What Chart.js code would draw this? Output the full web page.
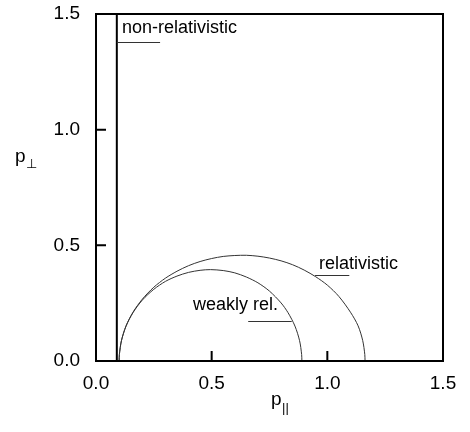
<!DOCTYPE html>
<html>
<head>
<meta charset="utf-8">
<script src="https://cdn.jsdelivr.net/npm/chart.js@4.4.0/dist/chart.umd.min.js"></script>
<style>
  html, body { margin: 0; padding: 0; background: #fff; }
</style>
</head>
<body>
<canvas id="chart" width="470" height="432"></canvas>
<script>
// axis ticks (same on both axes)
const tickValues = [0, 0.5, 1.0, 1.5];

// non-relativistic resonance: vertical line
const nonRelX = [0.09, 0.09];
const nonRelY = [0, 1.5];

// weakly relativistic resonance curve
const weakX = [0.100, 0.101, 0.11, 0.13, 0.16, 0.20, 0.25, 0.30, 0.35, 0.40, 0.45, 0.495,
  0.55, 0.60, 0.65, 0.70, 0.75, 0.80, 0.83, 0.86, 0.88, 0.889, 0.890];
const weakY = [0, 0.028, 0.088, 0.151, 0.209, 0.263, 0.310, 0.344, 0.367, 0.383, 0.392, 0.395,
  0.391, 0.381, 0.363, 0.338, 0.302, 0.251, 0.209, 0.151, 0.088, 0.028, 0];

// fully relativistic resonance curve
const relX = [0.100, 0.101, 0.11, 0.13, 0.16, 0.20, 0.25, 0.30, 0.35, 0.40, 0.45, 0.50, 0.55,
  0.60, 0.65, 0.70, 0.75, 0.80, 0.85, 0.90, 0.95, 1.00, 1.05, 1.10, 1.133, 1.153, 1.162, 1.163];
const relY = [0, 0.028, 0.088, 0.152, 0.211, 0.267, 0.319, 0.358, 0.388, 0.412, 0.430, 0.443, 0.452,
  0.456, 0.457, 0.453, 0.445, 0.433, 0.416, 0.393, 0.364, 0.328, 0.279, 0.211, 0.152, 0.088, 0.028, 0];

// curve labels with a short leader line (data units)
const curveLabels = [
  { text: "non-relativistic", x: 0.112, y: 1.419, x0: 0.09, x1: 0.277, ly: 1.381 },
  { text: "relativistic", x: 0.964, y: 0.399, x0: 0.947, x1: 1.095, ly: 0.373 },
  { text: "weakly rel.", x: 0.419, y: 0.222, x0: 0.658, x1: 0.846, ly: 0.175 }
];

const FONT = '"Liberation Sans", Arial, sans-serif';

function toPoints(xs, ys) {
  return xs.map((x, i) => ({ x: x, y: ys[i] }));
}

const framePlugin = {
  id: "frame",
  afterDraw(chart) {
    const ctx = chart.ctx;
    const a = chart.chartArea;
    const xs = chart.scales.x;
    const ys = chart.scales.y;
    ctx.save();
    ctx.strokeStyle = "#000";
    ctx.lineWidth = 2;
    ctx.strokeRect(a.left, a.top, a.right - a.left, a.bottom - a.top);

    // inward ticks
    ctx.beginPath();
    tickValues.forEach(v => {
      const px = xs.getPixelForValue(v);
      ctx.moveTo(px, a.bottom);
      ctx.lineTo(px, a.bottom - 10);
      const py = ys.getPixelForValue(v);
      ctx.moveTo(a.left, py);
      ctx.lineTo(a.left + 10, py);
    });
    ctx.stroke();

    // curve labels
    ctx.fillStyle = "#000";
    ctx.font = "18px " + FONT;
    ctx.textBaseline = "alphabetic";
    ctx.textAlign = "left";
    ctx.lineWidth = 1;
    ctx.strokeStyle = "#333";
    curveLabels.forEach(l => {
      ctx.fillText(l.text, xs.getPixelForValue(l.x), ys.getPixelForValue(l.y));
      const ly = Math.round(ys.getPixelForValue(l.ly)) + 0.5;
      ctx.beginPath();
      ctx.moveTo(xs.getPixelForValue(l.x0), ly);
      ctx.lineTo(xs.getPixelForValue(l.x1), ly);
      ctx.stroke();
    });

    // axis titles with subscripts
    ctx.font = "19px " + FONT;
    ctx.fillText("p", 15, 162);
    ctx.font = "13px " + FONT;
    ctx.fillText("\u22A5", 26, 168);

    ctx.font = "19px " + FONT;
    ctx.fillText("p", 271, 405);
    ctx.font = "13px " + FONT;
    ctx.fillText("||", 282, 412);
    ctx.restore();
  }
};

const lineStyle = { showLine: true, pointRadius: 0, fill: false };

new Chart(document.getElementById("chart"), {
  type: "scatter",
  data: {
    datasets: [
      Object.assign({ label: "non-relativistic", data: toPoints(nonRelX, nonRelY),
        borderColor: "#000", borderWidth: 2, tension: 0 }, lineStyle),
      Object.assign({ label: "weakly rel.", data: toPoints(weakX, weakY),
        borderColor: "#333", borderWidth: 1, tension: 0.3 }, lineStyle),
      Object.assign({ label: "relativistic", data: toPoints(relX, relY),
        borderColor: "#333", borderWidth: 1, tension: 0.3 }, lineStyle)
    ]
  },
  options: {
    responsive: false,
    animation: false,
    devicePixelRatio: 1,
    layout: { padding: { top: 14, right: 27, left: 0, bottom: 0 } },
    plugins: { legend: { display: false }, tooltip: { enabled: false } },
    scales: {
      x: {
        type: "linear", min: 0, max: 1.5,
        afterBuildTicks: s => { s.ticks = tickValues.map(v => ({ value: v })); },
        afterFit: s => { s.height = 71; s.paddingLeft = 0; s.paddingRight = 0; },
        grid: { display: false, drawTicks: false },
        border: { display: false },
        ticks: { color: "#000", padding: 11, font: { family: FONT, size: 19 },
          callback: v => v.toFixed(1) }
      },
      y: {
        type: "linear", min: 0, max: 1.5,
        afterBuildTicks: s => { s.ticks = tickValues.map(v => ({ value: v })); },
        afterFit: s => { s.width = 96; s.paddingTop = 0; s.paddingBottom = 0; },
        grid: { display: false, drawTicks: false },
        border: { display: false },
        ticks: { color: "#000", padding: 16, font: { family: FONT, size: 19 },
          callback: v => v.toFixed(1) }
      }
    }
  },
  plugins: [framePlugin]
});
</script>
</body>
</html>
